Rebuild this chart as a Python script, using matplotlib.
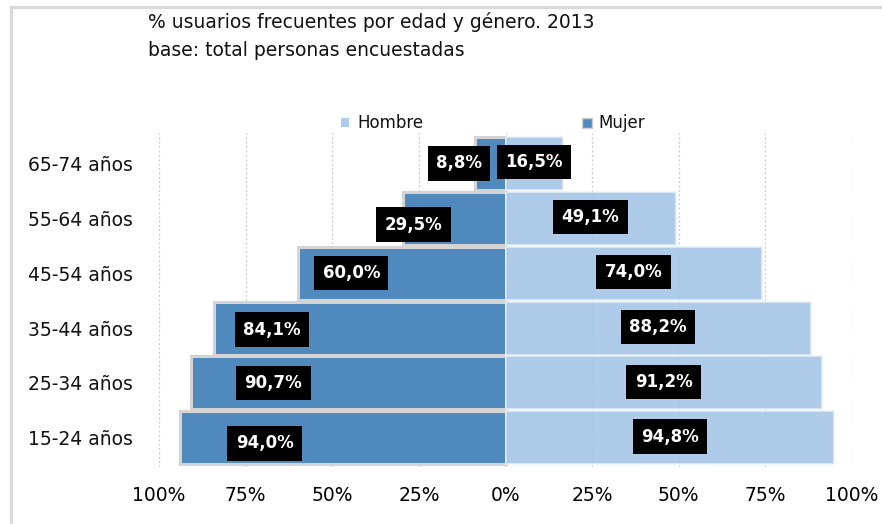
import matplotlib
matplotlib.use("Agg")
import matplotlib.pyplot as plt
from matplotlib.patches import Rectangle
from matplotlib.lines import Line2D

# ---- data ----
categories = ["15-24 años", "25-34 años", "35-44 años", "45-54 años", "55-64 años", "65-74 años"]
hombre = [94.8, 91.2, 88.2, 74.0, 49.1, 16.5]
mujer = [94.0, 90.7, 84.1, 60.0, 29.5, 8.8]
tick_values = [-100, -75, -50, -25, 0, 25, 50, 75, 100]
tick_labels = ["100%", "75%", "50%", "25%", "0%", "25%", "50%", "75%", "100%"]
title_lines = ["% usuarios frecuentes por edad y género. 2013", "base: total personas encuestadas"]

# label anchor positions for the Mujer labels (layout, as placed in the original)
mujer_label_x = [-69.5, -67.0, -67.4, -44.5, -26.5, -13.4]
mujer_label_dy = [-0.10, 0.0, -0.03, 0.0, -0.12, 0.0]

C_MUJER = "#4F89BD"
C_HOMBRE = "#A0C3E6"

fig = plt.figure(figsize=(8.82, 5.24), dpi=100)
fig.patch.set_facecolor("white")

# figure frame (top & left visible)
fig.add_artist(Line2D([10.5/882, 10.5/882], [0, 1 - 6.5/524], transform=fig.transFigure,
                      color="#D9D9D9", lw=2.3))
fig.add_artist(Line2D([10.5/882, 1], [1 - 6.5/524, 1 - 6.5/524], transform=fig.transFigure,
                      color="#D9D9D9", lw=2.3))

ax = fig.add_axes([159/882, 1 - 467/524, (852 - 159)/882, (467 - 133)/524])
y = list(range(len(categories)))

ax.set_xlim(-100, 100)
ax.set_ylim(-0.53, 5.55)

for xv in tick_values:
    ax.axvline(xv, color="#C8C8C8", lw=0.9, ls=(0, (1.5, 2)), zorder=0)

ax.barh(y, [-v for v in mujer], height=0.965, color=C_MUJER, edgecolor="#D4D4D4",
        linewidth=2.2, zorder=2)
ax.barh(y, hombre, height=0.965, color=C_HOMBRE, alpha=0.85, edgecolor="#EAF1F9",
        linewidth=1.2, zorder=3)

lab_font = dict(color="white", fontsize=12, fontweight="bold", family="DejaVu Sans",
                ha="center", va="center", zorder=5)
box = dict(boxstyle="square,pad=0.5", fc="black", ec="none")
for i in y:
    ax.text(hombre[i] / 2, i + 0.02, f"{hombre[i]:.1f}%".replace(".", ","), bbox=box, **lab_font)
    ax.text(mujer_label_x[i], i + mujer_label_dy[i], f"{mujer[i]:.1f}%".replace(".", ","),
            bbox=box, **lab_font)

ax.set_xticks(tick_values)
ax.set_xticklabels(tick_labels, fontsize=13.5, color="black")
ax.set_yticks(y)
ax.set_yticklabels(categories, fontsize=13.5, color="#111111")
ax.tick_params(axis="x", length=0, pad=14)
ax.tick_params(axis="y", length=0, pad=18.5)
for s in ax.spines.values():
    s.set_visible(False)

# title
fig.text(148/882, 1 - 22/524, title_lines[0], fontsize=13.5, color="#111111", va="center", ha="left")
fig.text(148/882, 1 - 50/524, title_lines[1], fontsize=13.5, color="#111111", va="center", ha="left")

# legend (manual)
fig.add_artist(Rectangle((341/882, 1 - 127/524), 8/882, 9/524, transform=fig.transFigure,
                         fc="#AECCEA", ec="none"))
fig.text(357/882, 1 - 123/524, "Hombre", fontsize=12, color="#111111", va="center", ha="left")
fig.add_artist(Rectangle((582/882, 1 - 128/524), 10/882, 10/524, transform=fig.transFigure,
                         fc=C_MUJER, ec="#CFCFCF", lw=1))
fig.text(598/882, 1 - 123/524, "Mujer", fontsize=12, color="#111111", va="center", ha="left")

fig.savefig("out.png", dpi=100)
